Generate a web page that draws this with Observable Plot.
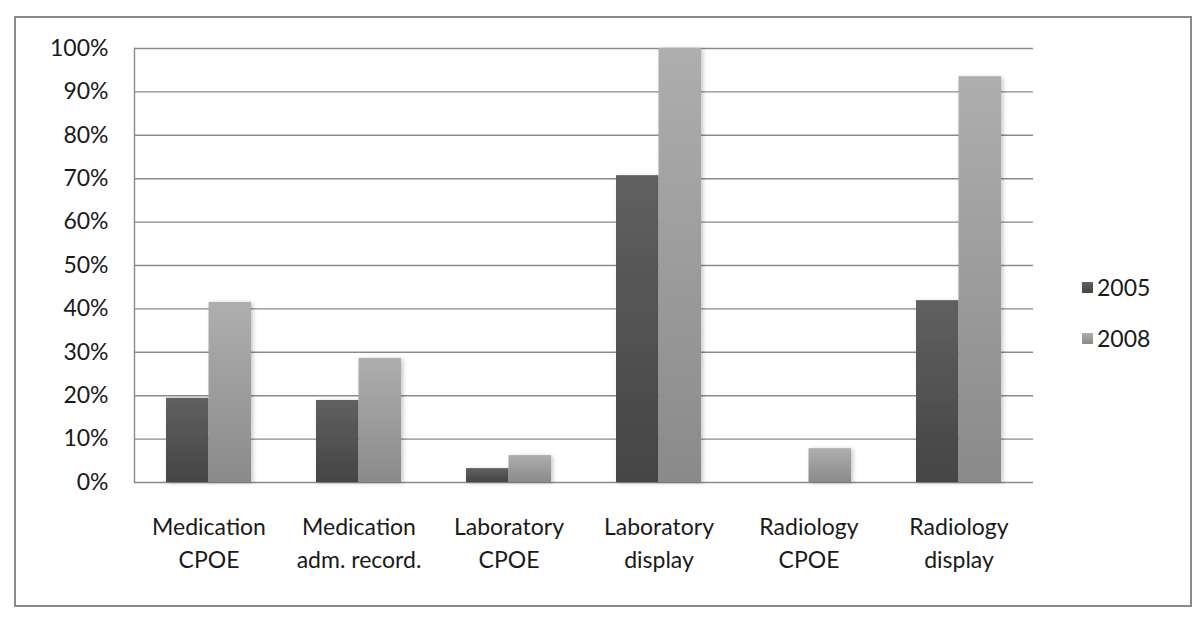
<!DOCTYPE html>
<html>
<head>
<meta charset="utf-8">
<script src="https://cdn.jsdelivr.net/npm/d3@7"></script>
<script src="https://cdn.jsdelivr.net/npm/@observablehq/plot@0.6"></script>
<style>
  body { margin: 0; background: #fff; }
  #wrap { position: relative; width: 1200px; height: 618px; font-family: Lato, "Open Sans", sans-serif; background:#fff; }
  #border { position: absolute; left: 14px; top: 16px; width: 1174px; height: 587px; border: 2px solid #8a8a8a; pointer-events: none; }
  #legend { position: absolute; left: 1082px; top: 271px; font-size: 23px; color: #1a1a1a; }
  .item { display: flex; align-items: center; height: 32px; margin-bottom: 19px; }
  .sw { width: 11px; height: 11px; margin-right: 4px; }
</style>
</head>
<body>
<div id="wrap">
  <div id="chart"></div>
  <div id="border"></div>
  <div id="legend"></div>
</div>
<script>
const categories = ["Medication CPOE", "Medication adm. record.", "Laboratory CPOE", "Laboratory display", "Radiology CPOE", "Radiology display"];
const tickLabels = ["Medication\nCPOE", "Medication\nadm. record.", "Laboratory\nCPOE", "Laboratory\ndisplay", "Radiology\nCPOE", "Radiology\ndisplay"];
const years = ["2005", "2008"];
const values2005 = [0.194, 0.189, 0.032, 0.707, 0.0, 0.419];
const values2008 = [0.415, 0.286, 0.062, 1.0, 0.078, 0.935];
const yTicks = [0, 0.1, 0.2, 0.3, 0.4, 0.5, 0.6, 0.7, 0.8, 0.9, 1.0];

const gradients = {
  "2005": ["#606060", "#454545"],
  "2008": ["#aeaeae", "#8a8a8a"]
};

const rows2005 = categories.map((c, i) => ({category: c, year: years[0], value: values2005[i]}));
const rows2008 = categories.map((c, i) => ({category: c, year: years[1], value: values2008[i]}));

const base = {
  width: 1200,
  height: 618,
  marginLeft: 134,
  marginRight: 167,
  marginTop: 48,
  marginBottom: 136,
  style: {fontFamily: "Lato, 'Open Sans', sans-serif", fontSize: "23px", color: "#1a1a1a", background: "transparent"},
  x: {domain: categories, paddingInner: 0.433, paddingOuter: 0.213, axis: null, label: null},
  y: {domain: [0, 1], axis: null, label: null}
};

// probe pass to learn the band width
const probe = Plot.plot({...base, marks: [Plot.barY(rows2005, {x: "category", y: "value"})]});
const bw = probe.scale("x").bandwidth;
const half = bw / 2;

const chart = Plot.plot({
  ...base,
  marks: [
    Plot.gridY(yTicks, {stroke: "#8a8a8a", strokeOpacity: 1, strokeWidth: 1.4}),
    Plot.frame({anchor: "left", stroke: "#8a8a8a", strokeWidth: 1.4}),
    Plot.barY(rows2005, {x: "category", y: "value", fill: "url(#g2005)", insetRight: half, insetLeft: 0}),
    Plot.barY(rows2008, {x: "category", y: "value", fill: "url(#g2008)", insetLeft: half, insetRight: 0}),
    Plot.axisY(yTicks, {tickFormat: d3.format(".0%"), tickSize: 0, tickPadding: 26, fontSize: 23, label: null}),
    Plot.axisX({tickFormat: d => tickLabels[categories.indexOf(d)], tickSize: 0, tickPadding: 29, fontSize: 23, lineHeight: 1.43, label: null})
  ]
});

const svg = d3.select(chart);
const defs = svg.insert("defs", ":first-child");
for (const y of years) {
  const g = defs.append("linearGradient").attr("id", "g" + y).attr("x1", 0).attr("y1", 0).attr("x2", 0).attr("y2", 1);
  g.append("stop").attr("offset", "0%").attr("stop-color", gradients[y][0]);
  g.append("stop").attr("offset", "100%").attr("stop-color", gradients[y][1]);
}
const f = defs.append("filter").attr("id", "shadow").attr("x", "-20%").attr("y", "-5%").attr("width", "150%").attr("height", "115%");
f.append("feDropShadow").attr("dx", 2).attr("dy", 1).attr("stdDeviation", 2).attr("flood-color", "#000").attr("flood-opacity", 0.22);
svg.selectAll('g[aria-label="bar"]').attr("filter", "url(#shadow)");

document.getElementById("chart").appendChild(chart);

const legend = document.getElementById("legend");
for (const y of years) {
  const item = document.createElement("div");
  item.className = "item";
  const sw = document.createElement("div");
  sw.className = "sw";
  sw.style.background = `linear-gradient(${gradients[y][0]}, ${gradients[y][1]})`;
  const t = document.createElement("span");
  t.textContent = y;
  item.appendChild(sw);
  item.appendChild(t);
  legend.appendChild(item);
}
</script>
</body>
</html>
